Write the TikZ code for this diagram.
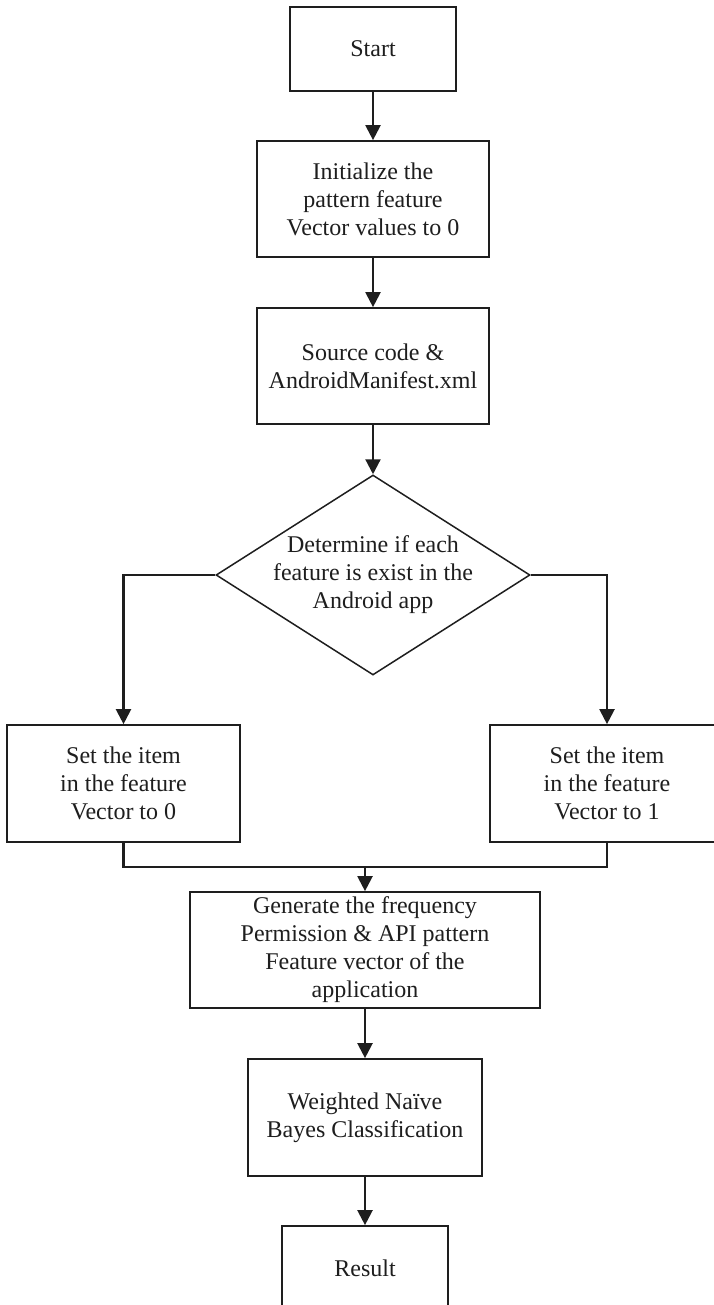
\documentclass[tikz,border=0pt]{standalone}
\usepackage{fontspec}
\setmainfont{Liberation Serif}
\usetikzlibrary{arrows.meta,shapes.geometric}
\definecolor{ink}{HTML}{1E1E1E}
\begin{document}
\begin{tikzpicture}[x=1pt,y=-1pt,
  box/.style={draw=ink, line width=1.7pt, fill=white, rectangle, inner sep=0pt,
    align=center, font=\fontsize{24}{28}\selectfont, text=ink},
  decision/.style={draw=ink, line width=1.5pt, diamond, inner sep=0pt},
  lbl/.style={align=center, font=\fontsize{24}{28}\selectfont, text=ink, inner sep=0pt},
  conn/.style={line width=2.2pt, draw=ink},
  arr/.style={conn, -{Triangle[length=15pt,width=15pt]}}]
\useasboundingbox (0,0) rectangle (714,1305);
\clip (0,0) rectangle (714,1305);

\node[box, minimum width=166pt, minimum height=84pt] (start) at (373,49) {Start};
\node[box, minimum width=232pt, minimum height=116pt] (init) at (373,199)
  {Initialize the\\pattern feature\\Vector values to 0};
\node[box, minimum width=232pt, minimum height=116pt] (src) at (373,366)
  {Source code \&\\AndroidManifest.xml};
\node[decision, minimum width=314pt, minimum height=200pt] (dec) at (373,575) {};
\node[lbl] (dectext) at (373,575) {Determine if each\\feature is exist in the\\Android app};
\node[box, minimum width=233pt, minimum height=117pt] (left) at (123.5,783.5)
  {Set the item\\in the feature\\Vector to 0};
\node[box, minimum width=234pt, minimum height=117pt] (right) at (607,783.5)
  {Set the item\\in the feature\\Vector to 1};
\node[box, minimum width=350pt, minimum height=116pt] (gen) at (365,950)
  {Generate the frequency\\Permission \& API pattern\\Feature vector of the\\application};
\node[box, minimum width=234pt, minimum height=117pt] (wnb) at (365,1117.5)
  {Weighted Na\"ive\\Bayes Classification};
\node[box, minimum width=166pt, minimum height=84pt] (res) at (365,1268) {Result};

\coordinate (merge) at (365,867);

\draw[arr] (start.south) -- (init.north);
\draw[arr] (init.south) -- (src.north);
\draw[arr] (src.south) -- (dec.north);
\draw[arr] (dec.west) -| (left.north);
\draw[arr] (dec.east) -| (right.north);
\draw[conn] (left.south) |- (merge) -| (right.south);
\draw[arr] (merge) -- (gen.north);
\draw[arr] (gen.south) -- (wnb.north);
\draw[arr] (wnb.south) -- (res.north);
\end{tikzpicture}
\end{document}
